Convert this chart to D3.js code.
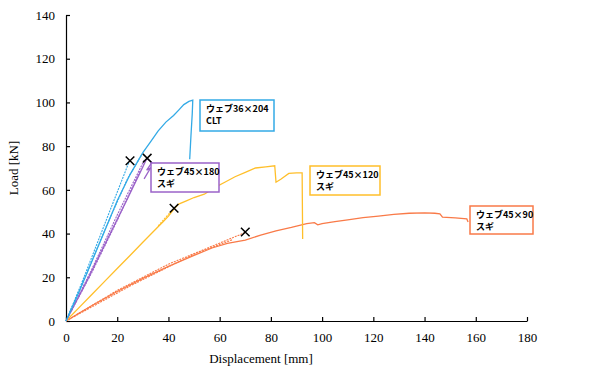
<!DOCTYPE html>
<html>
<head>
<meta charset="utf-8">
<script src="https://cdn.jsdelivr.net/npm/d3@7"></script>
<style>
  body { margin: 0; background: #fff; }
  .axis text { font-family: "Liberation Serif", serif; font-size: 13px; fill: #000; }
  .axis path, .axis line { stroke: #000; stroke-width: 1.2; }
  .lbl text { font-family: "Noto Sans CJK JP", sans-serif; font-size: 9px; font-weight: bold; fill: #000; }
</style>
</head>
<body>
<svg id="chart"></svg>
<script>
const xTicks = [0, 20, 40, 60, 80, 100, 120, 140, 160, 180];
const yTicks = [0, 20, 40, 60, 80, 100, 120, 140];

// displacement [mm], load [kN]
const cltMain = [[0,0],[5,13],[10,27],[15,41],[20,55],[25,67],[30,77],[33,82],[36,87],[39,91],[42,94],[44,96.5],[46,99],[48,100.5],[49.5,101],[49.3,95],[48.8,85],[48.3,74]];
const cltCycle1 = [[0,0],[6,17],[12,35],[18,53],[24.6,72.7]];
const cltCycle2 = [[0,0],[8,21.5],[16,44],[24,65],[29.5,76]];

const w180Main = [[0,0],[8,18],[16,37],[24,56],[30,70.5],[31.6,74.5],[33.5,72.5],[31.5,69],[33,70],[30.5,65]];
const w180Cycle1 = [[0,0],[10,22],[20,46],[29,69]];
const w180Cycle2 = [[0,0],[10,23.5],[20,48.5],[30.5,73.5]];

const w120Main = [[0,0],[5,6],[10,12],[15,18],[20,24],[25,30],[30,36],[35,42],[38,45.5],[40,48],[42,51],[44,53.5],[47,55],[50,56.5],[54,58],[58,61],[62,63.5],[66,66],[70,68],[74,70],[78,70.5],[81.5,71],[82,63.5],[84,65],[87,67.5],[90,67.8],[92.2,67.8],[92.4,37.5]];
const w120Cycle1 = [[36,43.5],[39,47.5],[42.2,51.6]];

const w90Main = [[0,0],[10,7],[20,13.5],[30,19.5],[40,25],[50,30],[57,33.4],[63,35.5],[70,37],[76,39.3],[82,41.2],[88,42.8],[94,44.6],[97,45],[98.3,44],[100,44.6],[105,45.5],[110,46.3],[116,47.3],[122,48],[128,48.8],[134,49.3],[140,49.5],[144,49.3],[146,49],[147,47.5],[152,47.2],[156.5,46.7],[157,45.3]];
const w90Cycle1 = [[0,0],[20,14],[40,26],[57,34.2],[70,40.5]];
const w90Cycle2 = [[0,0],[25,16],[50,30.6],[65,37.2]];

const failPoints = [[25,73.3],[31.7,74.5],[42.2,51.6],[70,40.7]];

const seriesNames = ["ウェブ36×204|CLT", "ウェブ45×180|スギ", "ウェブ45×120|スギ", "ウェブ45×90|スギ"];
const seriesColors = ["#33aae6", "#9b63c9", "#ffbf2a", "#f97a48"];
// label box anchor (top-left) in data units
const labelAt = [[52.3,101.1],[33.2,72.3],[95.2,70.9],[157.6,52.6]];
const labelSize = [[74,31],[68,29],[70,29],[63,28]];

const W = 604, H = 379;
const svg = d3.select("#chart").attr("width", W).attr("height", H);

const x = d3.scaleLinear().domain([0, 180]).range([66, 527]);
const y = d3.scaleLinear().domain([0, 140]).range([321, 15]);

svg.append("g")
    .attr("class", "axis")
    .attr("transform", `translate(0, ${y(0)})`)
    .call(d3.axisBottom(x).tickValues(xTicks).tickSize(-4).tickPadding(12).tickSizeOuter(0));

svg.append("g")
    .attr("class", "axis")
    .attr("transform", `translate(${x(0)}, 0)`)
    .call(d3.axisLeft(y).tickValues(yTicks).tickSize(-4).tickPadding(11).tickSizeOuter(0));

svg.append("text")
    .attr("transform", `translate(18, ${y(70)}) rotate(-90)`)
    .attr("text-anchor", "middle")
    .style("font-family", "Liberation Serif, serif")
    .style("font-size", "13px")
    .text("Load [kN]");

svg.append("text")
    .attr("x", 261).attr("y", 363)
    .attr("text-anchor", "middle")
    .style("font-family", "Liberation Serif, serif")
    .style("font-size", "13px")
    .text("Displacement [mm]");

const line = d3.line().x(d => x(d[0])).y(d => y(d[1]));

const groups = [
    { main: cltMain, cycles: [cltCycle1, cltCycle2] },
    { main: w180Main, cycles: [w180Cycle1, w180Cycle2] },
    { main: w120Main, cycles: [w120Cycle1] },
    { main: w90Main, cycles: [w90Cycle1, w90Cycle2] }
];

// draw back to front so blue ends on top
groups.slice().reverse().forEach((g, ri) => {
    const i = groups.length - 1 - ri;
    g.cycles.forEach(c => {
        svg.append("path")
            .attr("d", line(c))
            .attr("fill", "none")
            .attr("stroke", seriesColors[i])
            .attr("stroke-width", 1.1)
            .attr("stroke-dasharray", "2,1");
    });
    svg.append("path")
        .attr("d", line(g.main))
        .attr("fill", "none")
        .attr("stroke", seriesColors[i])
        .attr("stroke-width", 1.3);
});

svg.selectAll(".fail")
    .data(failPoints)
    .enter()
    .append("path")
    .attr("class", "fail")
    .attr("d", d3.symbol(d3.symbolX, 50))
    .attr("transform", d => `translate(${x(d[0])}, ${y(d[1])})`)
    .attr("stroke", "#000")
    .attr("stroke-width", 1.5)
    .attr("fill", "none");

seriesNames.forEach((name, i) => {
    const g = svg.append("g")
        .attr("class", "lbl")
        .attr("transform", `translate(${Math.round(x(labelAt[i][0]))}, ${Math.round(y(labelAt[i][1]))})`);
    g.append("rect")
        .attr("width", labelSize[i][0])
        .attr("height", labelSize[i][1])
        .attr("fill", "#fff")
        .attr("stroke", seriesColors[i])
        .attr("stroke-width", 1.5);
    name.split("|").forEach((t, k) => {
        g.append("text")
            .attr("x", 6)
            .attr("y", 12 + k * 12)
            .text(t);
    });
});
</script>
</body>
</html>
